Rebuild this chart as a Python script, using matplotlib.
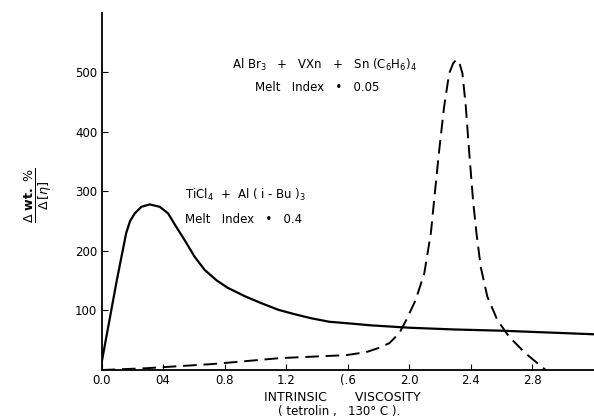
import matplotlib.pyplot as plt

# values
solid_x = [0.0, 0.1, 0.16, 0.185, 0.216, 0.259, 0.313, 0.378, 0.432, 0.486,
           0.54, 0.605, 0.67, 0.75, 0.82, 0.93, 1.04, 1.15, 1.25, 1.36,
           1.48, 1.62, 1.75, 2.0, 2.3, 2.6, 2.9, 3.2]
solid_y = [12, 152, 230, 250, 263, 274, 278, 274, 263, 240,
           218, 190, 168, 150, 138, 124, 112, 101, 94, 87,
           81, 78, 75, 71, 68, 66, 63, 60]

dash_x = [0.0, 0.29, 0.72, 1.16, 1.59, 1.72, 1.8, 1.87, 1.935, 1.98, 2.04,
          2.097, 2.14, 2.161, 2.194, 2.226, 2.259, 2.285, 2.306, 2.327,
          2.345, 2.367, 2.388, 2.414, 2.436, 2.464, 2.507, 2.572, 2.648,
          2.755, 2.886]
dash_y = [0, 3, 10, 20, 25, 30, 37, 45, 62, 84, 117,
          162, 230, 285, 369, 442, 498, 515, 521, 514,
          498, 442, 369, 285, 230, 173, 123, 84, 56,
          28, 0]

x_ticks = [0.0, 0.4, 0.8, 1.2, 1.6, 2.0, 2.4, 2.8]
x_tick_labels = ["0.0", "04", "0.8", "1.2", "(.6", "2.0", "2.4", "2.8"]
y_ticks = [100, 200, 300, 400, 500]

fig = plt.figure(figsize=(5.94, 4.2), dpi=100)
ax = fig.add_axes([0.171, 0.119, 0.829, 0.851])

ax.plot(solid_x, solid_y, color='black', linewidth=1.6,
        solid_joinstyle='round')
ax.plot(dash_x, dash_y, color='black', linewidth=1.4, dashes=(7, 3.5),
        dash_joinstyle='round')

ax.set_xlim(0, 3.2)
ax.set_ylim(0, 600)
ax.spines['top'].set_visible(False)
ax.spines['right'].set_visible(False)
ax.spines['left'].set_linewidth(1.3)
ax.spines['bottom'].set_linewidth(1.3)
ax.set_xticks(x_ticks)
ax.set_xticklabels(x_tick_labels)
ax.set_yticks(y_ticks)
ax.tick_params(direction='in', length=4, labelsize=8.5, pad=3)

# curve labels
ax.text(0.845, 512, r"Al Br$_3$   +   VXn   +   Sn (C$_6$H$_6$)$_4$",
        fontsize=8.5, va='center')
ax.text(0.994, 475, "Melt   Index   \u2022   0.05", fontsize=8.5, va='center')
ax.text(0.54, 294, r"TiCl$_4$  +  Al ( i - Bu )$_3$", fontsize=8.5,
        va='center')
ax.text(0.54, 252, "Melt   Index   \u2022   0.4", fontsize=8.5, va='center')

# axis titles
fig.text(0.576, 0.054, "INTRINSIC       VISCOSITY", fontsize=9,
         ha='center', va='center')
fig.text(0.571, 0.02, "( tetrolin ,   130\u00b0 C ).", fontsize=8.5,
         ha='center', va='center')
fig.text(0.065, 0.535, r"$\frac{\Delta\ \mathbf{wt.}\ \%}{\Delta\,[\eta]}$",
         fontsize=13, rotation=90, ha='center', va='center')

fig.savefig("out.png", dpi=100)
